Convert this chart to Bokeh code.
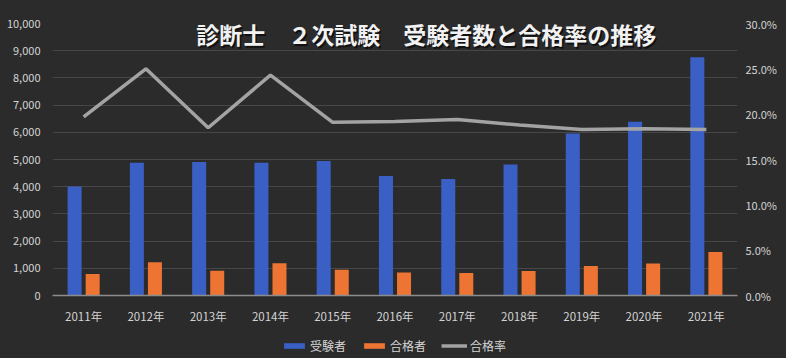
from bokeh.plotting import figure
from bokeh.layouts import column
from bokeh.models import (ColumnDataSource, FactorRange, Range1d, LinearAxis,
                          NumeralTickFormatter, SingleIntervalTicker, FixedTicker,
                          Label, Legend, LegendItem)
from bokeh.transform import dodge
from bokeh.embed import file_html
from bokeh.resources import INLINE

years = ["2011年", "2012年", "2013年", "2014年", "2015年", "2016年",
         "2017年", "2018年", "2019年", "2020年", "2021年"]
examinees = [4003, 4878, 4907, 4885, 4941, 4394, 4279, 4812, 5954, 6388, 8757]
passers = [790, 1220, 910, 1185, 944, 842, 828, 905, 1088, 1174, 1600]
pass_rate = [0.197, 0.250, 0.185, 0.243, 0.191, 0.192, 0.194, 0.188, 0.183, 0.184, 0.183]
rate_ticks = [0.0, 0.05, 0.10, 0.15, 0.20, 0.25, 0.30]
series_names = ["受験者", "合格者", "合格率"]

title_text = "診断士　２次試験　受験者数と合格率の推移"
FONT = "Noto Sans CJK JP"
BG = "#2b2b2b"
TXT = "#d4d4d4"
BLUE = "#3a60c6"
ORANGE = "#ee7433"
GRAY = "#a3a3a3"

src = ColumnDataSource(dict(x=years, a=examinees, b=passers,
                            r=[v * 10000 / 0.30 for v in pass_rate]))

p = figure(width=786, height=326, x_range=FactorRange(*years),
           y_range=Range1d(0, 10000),
           output_backend="svg", toolbar_location=None,
           background_fill_color=BG, border_fill_color=BG, outline_line_color=None,
           min_border_left=52, min_border_right=49, min_border_top=23, min_border_bottom=30)

p.extra_y_ranges = {"rate": Range1d(0, 0.30)}

p.vbar(x=dodge("x", -0.145, range=p.x_range), top="a", width=0.225, source=src,
       fill_color=BLUE, line_color=None)
p.vbar(x=dodge("x", 0.145, range=p.x_range), top="b", width=0.225, source=src,
       fill_color=ORANGE, line_color=None)
p.line(x="x", y="r", source=src, line_color=GRAY, line_width=3.5)

# axes
p.yaxis.ticker = SingleIntervalTicker(interval=1000)
p.yaxis.formatter = NumeralTickFormatter(format="0,0")
ax2 = LinearAxis(y_range_name="rate", ticker=FixedTicker(ticks=rate_ticks),
                 formatter=NumeralTickFormatter(format="0.0%"))
p.add_layout(ax2, "right")

for ax in [p.yaxis[0], ax2]:
    ax.axis_line_color = None
    ax.major_tick_line_color = None
    ax.minor_tick_line_color = None
    ax.major_tick_out = 0
    ax.major_tick_in = 0
    ax.major_label_text_color = TXT
    ax.major_label_text_font = FONT
    ax.major_label_text_font_size = "11px"
    ax.major_label_standoff = 8

p.xaxis.axis_line_color = "#8c8c8c"
p.xaxis.axis_line_width = 1.5
p.xaxis.major_tick_line_color = None
p.xaxis.minor_tick_line_color = None
p.xaxis.major_tick_out = 0
p.xaxis.major_tick_in = 0
p.xaxis.major_label_text_color = TXT
p.xaxis.major_label_text_font = FONT
p.xaxis.major_label_text_font_size = "11.5px"
p.xaxis.major_label_standoff = 12

p.xgrid.grid_line_color = None
p.ygrid.grid_line_color = "#474747"
p.ygrid.grid_line_width = 1

# title inside the plot area
shadow = Label(x=6.0, y=9600, text=title_text, text_align="center", text_baseline="middle",
               text_font=FONT, text_font_size="23px", text_font_style="bold",
               text_color="#000000", text_alpha=0.6, x_offset=1.5, y_offset=-1.5)
title = Label(x=6.0, y=9600, text=title_text, text_align="center", text_baseline="middle",
              text_font=FONT, text_font_size="23px", text_font_style="bold",
              text_color="#f2f2f2")
p.add_layout(shadow)
p.add_layout(title)

# legend strip below the chart (proxy glyphs placed outside the visible range)
p2 = figure(width=786, height=32, x_range=Range1d(0, 685), y_range=Range1d(0, 32),
            output_backend="svg", toolbar_location=None,
            x_axis_type=None, y_axis_type=None,
            background_fill_color=BG, border_fill_color=BG, outline_line_color=None,
            min_border=0)
p2.grid.visible = False
lb = p2.vbar(x=[-1000], top=[-1000], width=1, fill_color=BLUE, line_color=None)
lo = p2.vbar(x=[-1000], top=[-1000], width=1, fill_color=ORANGE, line_color=None)
ll = p2.line(x=[-1000, -999], y=[-1000, -1000], line_color=GRAY, line_width=3.5)

legend = Legend(items=[LegendItem(label=series_names[0], renderers=[lb]),
                       LegendItem(label=series_names[1], renderers=[lo]),
                       LegendItem(label=series_names[2], renderers=[ll])],
                orientation="horizontal", location=(229, 3),
                background_fill_alpha=0, border_line_color=None,
                label_text_color=TXT, label_text_font=FONT, label_text_font_size="12px",
                glyph_width=26, glyph_height=7, label_height=20, label_standoff=3,
                spacing=15, padding=0, margin=0)
p2.add_layout(legend, "center")

layout = column(p, p2, spacing=0, styles={"background-color": BG})
open("out.html", "w").write(file_html(layout, INLINE))
